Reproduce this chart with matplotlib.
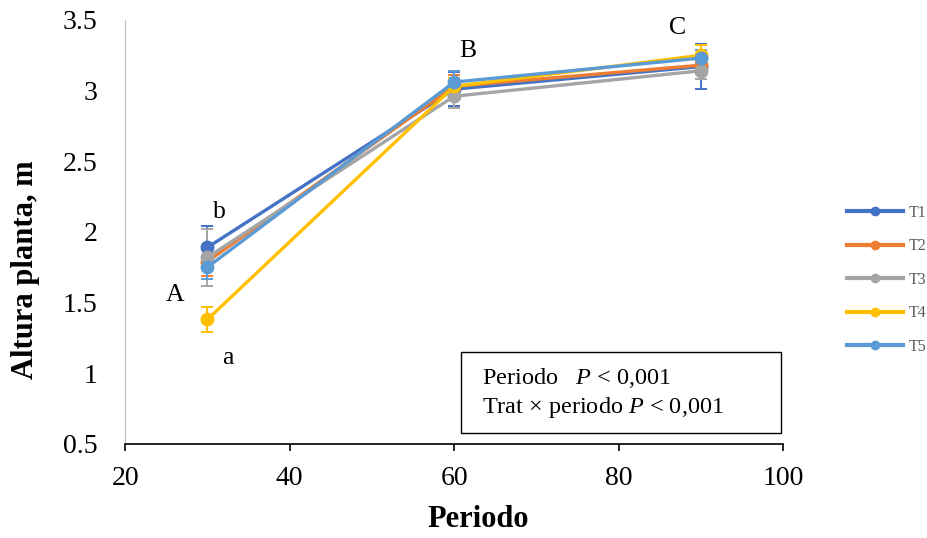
import matplotlib.pyplot as plt
from matplotlib.lines import Line2D
from matplotlib.patches import Rectangle

periods = [30, 60, 90]
labels = ["T1", "T2", "T3", "T4", "T5"]
colors = ["#4472C4", "#ED7D31", "#A5A5A5", "#FFC000", "#5B9BD5"]
heights = [
    [1.89, 3.01, 3.17],
    [1.79, 3.03, 3.18],
    [1.82, 2.96, 3.14],
    [1.38, 3.03, 3.25],
    [1.75, 3.06, 3.23],
]
errors = [
    [0.15, 0.12, 0.16],
    [0.10, 0.08, 0.06],
    [0.20, 0.08, 0.06],
    [0.09, 0.06, 0.07],
    [0.08, 0.08, 0.06],
]
letters = [("b", 31.4, 2.14), ("A", 26.1, 1.55), ("a", 32.5, 1.11),
           ("B", 61.6, 3.28), ("C", 87.1, 3.44)]

plt.rcParams["font.family"] = ["Liberation Serif", "DejaVu Serif"]
plt.rcParams["mathtext.fontset"] = "custom"
plt.rcParams["mathtext.rm"] = "Liberation Serif"
plt.rcParams["mathtext.it"] = "Liberation Serif:italic"

fig = plt.figure(figsize=(9.27, 5.38), dpi=100)
ax = fig.add_axes([0.135, 0.175, 0.71, 0.788])

for lab, col, h, e in zip(labels, colors, heights, errors):
    ax.errorbar(periods, h, yerr=e, color=col, lw=2.4, marker="o", ms=9,
                capsize=4.5, elinewidth=1.4, capthick=1.4)

for txt, x, y in letters:
    ax.text(x, y, txt, fontsize=18.5, ha="center", va="center")

ax.set_xlim(20, 100)
ax.set_ylim(0.5, 3.5)
ax.set_xticks([20, 40, 60, 80, 100])
ax.set_yticks([0.5, 1, 1.5, 2, 2.5, 3, 3.5])
ax.set_yticklabels(["0.5", "1", "1.5", "2", "2.5", "3", "3.5"])
ax.tick_params(axis="y", labelsize=20, length=0, pad=20)
ax.tick_params(axis="x", labelsize=20, length=5, width=1.2, direction="out",
               color="black", pad=11)
for s in ["top", "right"]:
    ax.spines[s].set_visible(False)
ax.spines["left"].set_color("#BFBFBF")
ax.spines["bottom"].set_color("black")
ax.spines["bottom"].set_linewidth(1.2)
ax.set_xlabel("Periodo", fontsize=22, fontweight="bold")
ax.set_ylabel("Altura planta, m", fontsize=22, fontweight="bold")
ax.xaxis.set_label_coords(0.536, -0.144)
ax.yaxis.set_label_coords(-0.130, 0.41)

# stats box
ax.add_patch(Rectangle((0.511, 0.026), 0.485, 0.191, transform=ax.transAxes,
                       fc="white", ec="black", lw=1, zorder=5))
ax.text(0.5425, 0.156, "Periodo   $P$ < 0,001", transform=ax.transAxes,
        fontsize=17.5, va="center", ha="left", zorder=6)
ax.text(0.5425, 0.085, "Trat × periodo $P$ < 0,001", transform=ax.transAxes,
        fontsize=17.5, va="center", ha="left", zorder=6)

handles = [Line2D([], [], color=c, lw=3, marker="o", ms=6) for c in colors]
leg = fig.legend(handles, labels, loc="center left", bbox_to_anchor=(0.898, 0.48),
                 frameon=False, fontsize=11.5, labelspacing=1.1, handlelength=3.5,
                 handletextpad=0.4)
for t in leg.get_texts():
    t.set_color("#595959")

fig.savefig("out.png", dpi=100)
